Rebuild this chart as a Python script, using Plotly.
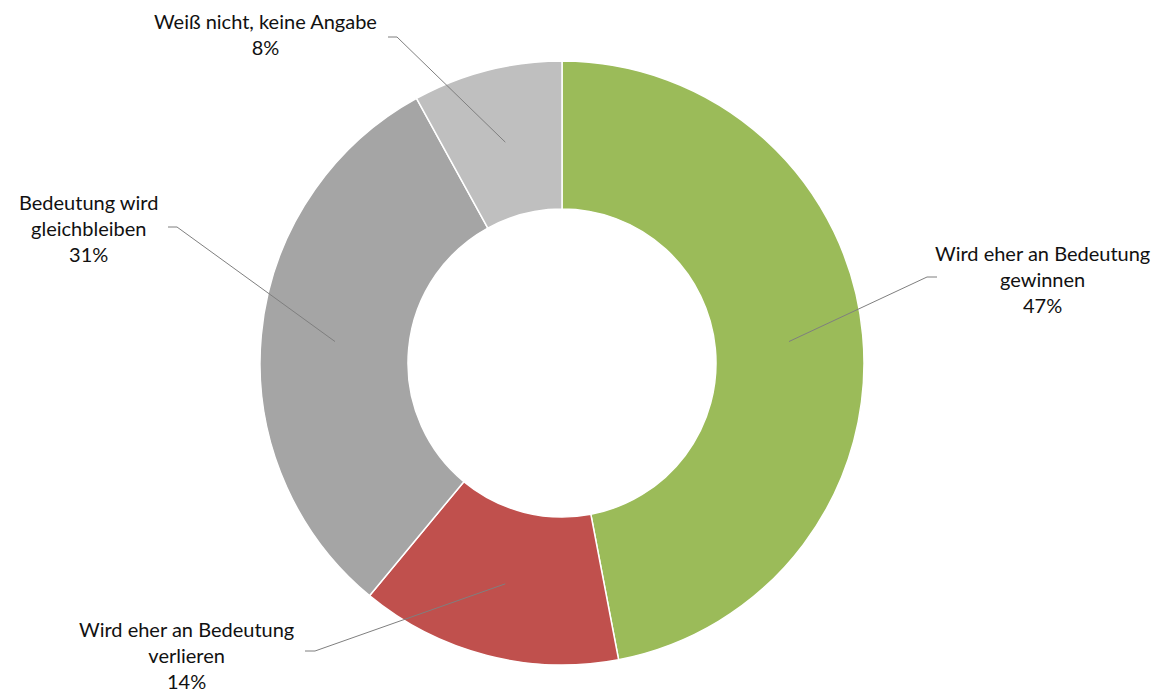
import math
import plotly.graph_objects as go

# ---- data ----
categories = ["Wird eher an Bedeutung<br>gewinnen",
              "Wird eher an Bedeutung<br>verlieren",
              "Bedeutung wird<br>gleichbleiben",
              "Weiß nicht, keine Angabe"]
values = [47, 14, 31, 8]
colors = ["#9BBB59", "#C0504D", "#A5A5A5", "#BFBFBF"]

# ---- layout constants (screen pixels) ----
W, H = 1169, 691
OFF = 8                    # page body margin offset
CX, CY = 562, 363          # pie centre
R_OUT, R_IN = 302, 154
label_layout = [
    dict(elbow=(927, 277), end=(937, 277), text=(1042, 279)),
    dict(elbow=(315, 651), end=(305, 651), text=(186, 655)),
    dict(elbow=(177, 227), end=(168, 227), text=(88, 228)),
    dict(elbow=(397, 37), end=(388, 37), text=(265, 34)),
]

def px(x):
    return (x - OFF) / W

def py(y):
    return 1 - (y - OFF) / H

fig = go.Figure(go.Pie(
    values=values,
    labels=[c.replace("<br>", " ") for c in categories],
    marker=dict(colors=colors, line=dict(color="white", width=1.5)),
    hole=R_IN / R_OUT,
    sort=False,
    direction="clockwise",
    rotation=0,
    textinfo="none",
    hoverinfo="label+percent",
    domain=dict(x=[px(CX - R_OUT), px(CX + R_OUT)],
                y=[py(CY + R_OUT), py(CY - R_OUT)]),
    showlegend=False,
))

total = sum(values)
cum = 0
shapes = []
annotations = []
r_mid = (R_OUT + R_IN) / 2
for cat, v, lay in zip(categories, values, label_layout):
    mid = (cum + v / 2) / total * 2 * math.pi
    cum += v
    ax = CX + r_mid * math.sin(mid)
    ay = CY - r_mid * math.cos(mid)
    ex, ey = lay["elbow"]
    tx, ty = lay["end"]
    shapes.append(dict(type="path", xref="paper", yref="paper",
                       path=f"M {px(ax)} {py(ay)} L {px(ex)} {py(ey)} L {px(tx)} {py(ty)}",
                       line=dict(color="#7F7F7F", width=1)))
    lx, ly = lay["text"]
    pct = round(v / total * 100)
    annotations.append(dict(x=px(lx), y=py(ly), xref="paper", yref="paper",
                            text=f"{cat}<br>{pct}%", showarrow=False,
                            xanchor="center", yanchor="middle", align="center",
                            font=dict(family="Lato, Carlito, sans-serif", size=20, color="#111111")))

fig.update_layout(
    width=W, height=H,
    margin=dict(l=0, r=0, t=0, b=0),
    paper_bgcolor="white", plot_bgcolor="white",
    shapes=shapes, annotations=annotations,
)

fig.write_html("out.html")
